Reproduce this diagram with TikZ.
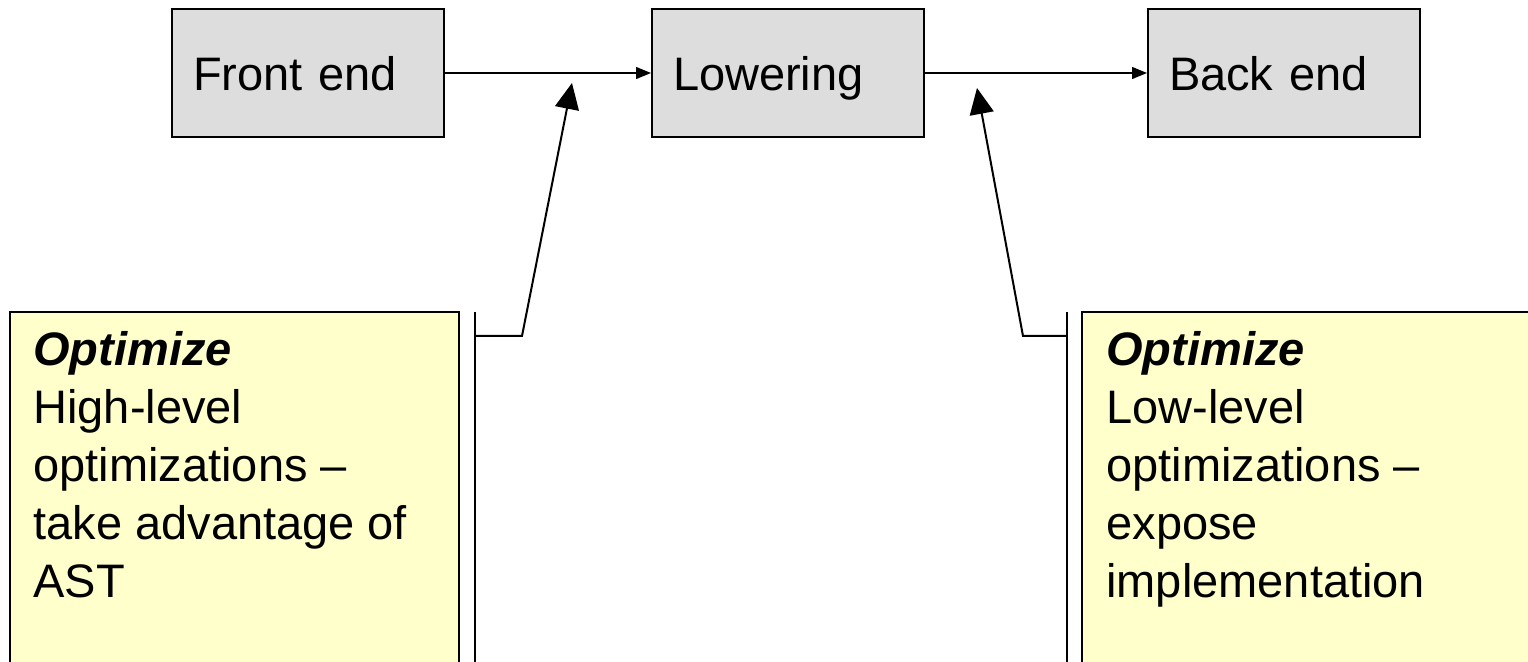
\documentclass[tikz,border=0pt]{standalone}
\usepackage{fontspec}
\setmainfont{Liberation Sans}
\usetikzlibrary{arrows.meta}
\definecolor{boxgray}{HTML}{DDDDDD}
\definecolor{noteyellow}{HTML}{FFFFCC}
\begin{document}
\begin{tikzpicture}[x=0.5pt,y=-0.5pt,
  stagebox/.style={draw=black,line width=1pt,fill=boxgray,anchor=north west,
    minimum width=136pt,minimum height=64pt,inner xsep=10.5pt,inner ysep=0pt,
    text width=115pt,text height=18pt,text depth=0pt,align=left,
    font=\fontsize{23.5}{28}\selectfont},
  notetext/.style={anchor=north west,inner sep=0pt,align=left,
    font=\fontsize{23.5}{29}\selectfont},
  notebox/.style={draw=black,line width=1pt,fill=noteyellow},
  flow/.style={line width=0.7pt,-{Triangle[length=7.5pt,width=6pt]}},
  point/.style={line width=1pt,-{Triangle[length=13pt,width=12pt]}},
  brk/.style={line width=1pt}]
\useasboundingbox (0,0) rectangle (1528,662);
% stages
\node[stagebox] (fe) at (171,8) {Front end};
\node[stagebox] (lo) at (651,8) {Lowering};
\node[stagebox] (be) at (1147,8) {Back end};
\draw[flow] (fe.east) -- (lo.west);
\draw[flow] (lo.east) -- (be.west);
% notes
\draw[notebox] (10,700) -- (10,312) -- (459,312) -- (459,700);
\draw[notebox] (1082,700) -- (1082,312) -- (1560,312);
\fill[noteyellow] (1083,313) rectangle (1560,700);
\node[notetext] (hl) at (33,331) {\textbf{\textit{Optimize}}\\High-level\\optimizations –\\take advantage of\\AST};
\node[notetext] (ll) at (1106,331) {\textbf{\textit{Optimize}}\\Low-level\\optimizations –\\expose\\implementation};
% brackets and pointers
\coordinate (lbt) at (475,312);
\coordinate (lbb) at (475,700);
\coordinate (lbm) at (475,336);
\coordinate (lel) at (522,336);
\coordinate (ltip) at (572,83);
\coordinate (rbt) at (1067,312);
\coordinate (rbb) at (1067,700);
\coordinate (rbm) at (1067,336);
\coordinate (rel) at (1023,336);
\coordinate (rtip) at (977,88);
\draw[brk] (lbt) -- (lbb);
\draw[brk] (rbt) -- (rbb);
\draw[point] (lbm) -- (lel) -- (ltip);
\draw[point] (rbm) -- (rel) -- (rtip);
\end{tikzpicture}
\end{document}
